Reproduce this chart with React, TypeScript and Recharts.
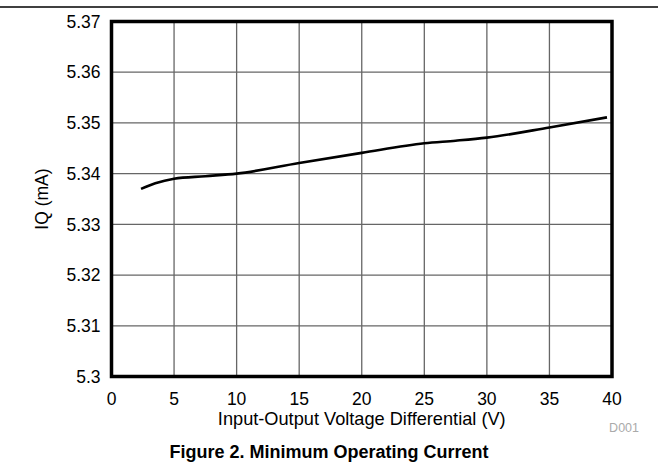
import React from 'react';
import { LineChart, Line, XAxis, YAxis, CartesianGrid, ReferenceArea, Label } from 'recharts';

const voltage = [2.36, 3.5, 5, 7.5, 10, 15, 20, 25, 27.5, 30, 35, 39.6];
const current = [5.337, 5.3381, 5.339, 5.3395, 5.34, 5.3421, 5.3441, 5.346, 5.3465, 5.3471, 5.3491, 5.3511];
const xTicks = [0, 5, 10, 15, 20, 25, 30, 35, 40];
const yTicks = [5.3, 5.31, 5.32, 5.33, 5.34, 5.35, 5.36, 5.37];

const data = voltage.map((v, i) => ({ v, iq: current[i] }));
const FONT = '"Liberation Sans", Arial, Helvetica, sans-serif';

export default function App() {
  return (
    <div style={{ position: 'absolute', left: 0, top: 0, width: 658, height: 464, background: '#fff', fontFamily: FONT }}>
      <LineChart width={658} height={464} data={data} margin={{ top: 21.5, right: 46, left: 0, bottom: 0 }}>
        <CartesianGrid stroke="#666" strokeWidth={1.3} />
        <XAxis
          dataKey="v"
          type="number"
          domain={[0, 40]}
          ticks={xTicks}
          axisLine={false}
          tickLine={false}
          tickSize={0}
          tickMargin={16}
          height={87.5}
          tick={{ fill: '#000', fontSize: 17.5, fontFamily: FONT }}
          allowDataOverflow
        >
          <Label
            content={(props: any) => {
              const vb = props.viewBox || { x: 111.5, width: 500 };
              return (
                <text x={vb.x + vb.width / 2} y={425} textAnchor="middle" fontSize={18.2} fill="#000" fontFamily={FONT}>
                  Input-Output Voltage Differential (V)
                </text>
              );
            }}
          />
        </XAxis>
        <YAxis
          type="number"
          domain={[5.3, 5.37]}
          ticks={yTicks}
          axisLine={false}
          tickLine={false}
          tickSize={0}
          tickMargin={11}
          width={111.5}
          tick={{ fill: '#000', fontSize: 17.5, fontFamily: FONT }}
          allowDataOverflow
        >
          <Label
            content={(props: any) => {
              const vb = props.viewBox || { y: 21.5, height: 355 };
              const cy = vb.y + vb.height / 2;
              return (
                <text x={48} y={cy} textAnchor="middle" fontSize={17.5} fill="#000" fontFamily={FONT} transform={`rotate(-90 48 ${cy})`}>
                  IQ (mA)
                </text>
              );
            }}
          />
        </YAxis>
        <Line type="monotone" dataKey="iq" stroke="#000" strokeWidth={2.6} dot={false} isAnimationActive={false} />
        <ReferenceArea x1={0} x2={40} y1={5.3} y2={5.37} fill="none" stroke="#000" strokeWidth={3.5} ifOverflow="visible" />
      </LineChart>
      <svg width={658} height={464} style={{ position: 'absolute', left: 0, top: 0, pointerEvents: 'none' }}>
        <line x1={0} y1={7} x2={658} y2={7} stroke="#000" strokeWidth={1.5} />
        <text x={639} y={431.5} textAnchor="end" fontSize={12.5} fill="#aaa" fontFamily={FONT}>D001</text>
        <text x={329} y={458.3} textAnchor="middle" fontSize={18} fontWeight="bold" fill="#000" fontFamily={FONT}>
          Figure 2. Minimum Operating Current
        </text>
      </svg>
    </div>
  );
}
